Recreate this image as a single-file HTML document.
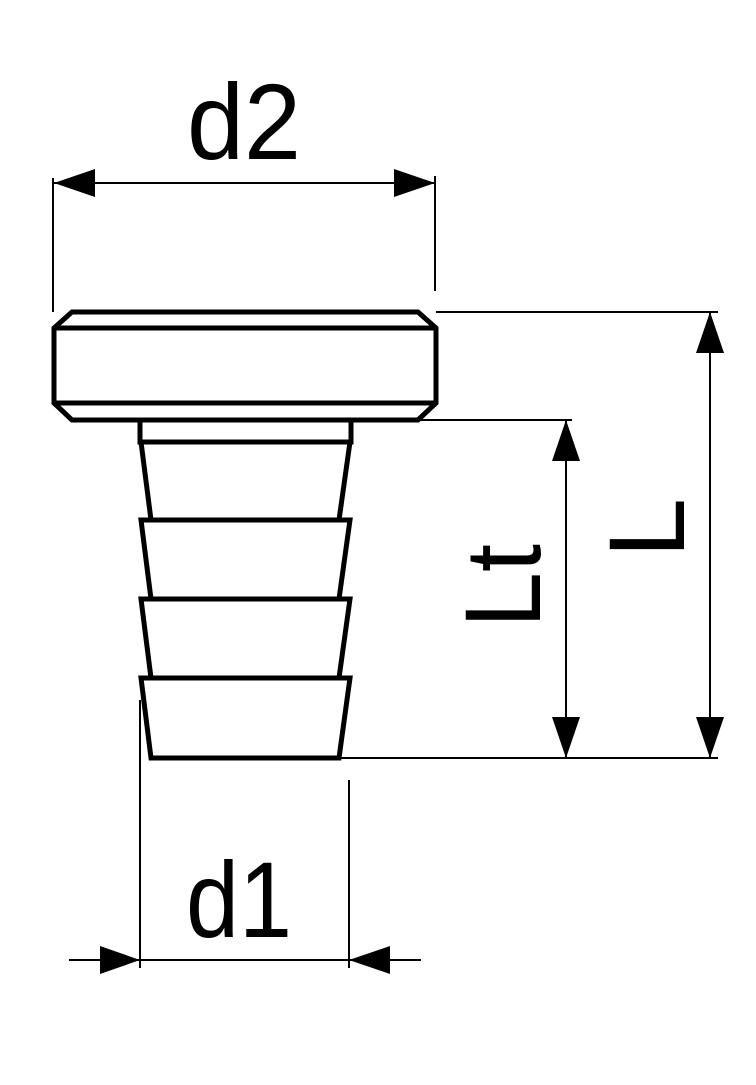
<!DOCTYPE html>
<html><head><style>html,body{margin:0;padding:0;background:#fff}</style></head>
<body>
<svg width="756" height="1080" viewBox="0 0 756 1080" xmlns="http://www.w3.org/2000/svg">
<g fill="none" stroke="#000" stroke-width="5" stroke-linejoin="miter">
  <!-- flange -->
  <polygon points="72,312 418,312 436,328 436,403 418,420 72,420 54,403 54,328"/>
  <line x1="54" y1="328" x2="436" y2="328"/>
  <line x1="54" y1="403" x2="436" y2="403"/>
  <!-- stub -->
  <polyline points="140,420 140,442 351,442 351,420"/>
  <!-- barbs -->
  <polygon points="141,442 350,442 339,520 151,520"/>
  <polygon points="141,520 350,520 339,599 151,599"/>
  <polygon points="141,599 350,599 339,678 151,678"/>
  <polygon points="141,678 350,678 339,758 151,758"/>
</g>
<g stroke="#000" stroke-width="2" fill="none">
  <!-- d2 -->
  <line x1="53" y1="178" x2="53" y2="312"/>
  <line x1="435" y1="176" x2="435" y2="291"/>
  <line x1="54" y1="183" x2="435" y2="183"/>
  <!-- horizontal extension lines -->
  <line x1="436" y1="312" x2="718" y2="312"/>
  <line x1="420" y1="420" x2="572" y2="420"/>
  <line x1="340" y1="758" x2="718" y2="758"/>
  <!-- Lt, L -->
  <line x1="566" y1="420" x2="566" y2="758"/>
  <line x1="710" y1="312" x2="710" y2="758"/>
  <!-- d1 -->
  <line x1="140" y1="700" x2="140" y2="968"/>
  <line x1="349" y1="780" x2="349" y2="968"/>
  <line x1="69" y1="960" x2="421" y2="960"/>
</g>
<g fill="#000">
  <polygon points="54,183 95,169 95,197"/>
  <polygon points="435,183 394,169 394,197"/>
  <polygon points="566,420 552,461 580,461"/>
  <polygon points="566,758 552,717 580,717"/>
  <polygon points="710,312 696,353 724,353"/>
  <polygon points="710,758 696,717 724,717"/>
  <polygon points="140,960 100,946 100,974"/>
  <polygon points="349,960 390,946 390,974"/>
</g>
<g font-family="Liberation Sans, sans-serif" font-size="108" fill="#000">
  <text x="187" y="159" textLength="114" lengthAdjust="spacingAndGlyphs">d2</text>
  <text x="186" y="937" textLength="106" lengthAdjust="spacingAndGlyphs">d1</text>
  <text transform="translate(540,628) rotate(-90)" textLength="84" lengthAdjust="spacingAndGlyphs">Lt</text>
  <text transform="translate(684,558) rotate(-90)">L</text>
</g>
</svg>
</body></html>
